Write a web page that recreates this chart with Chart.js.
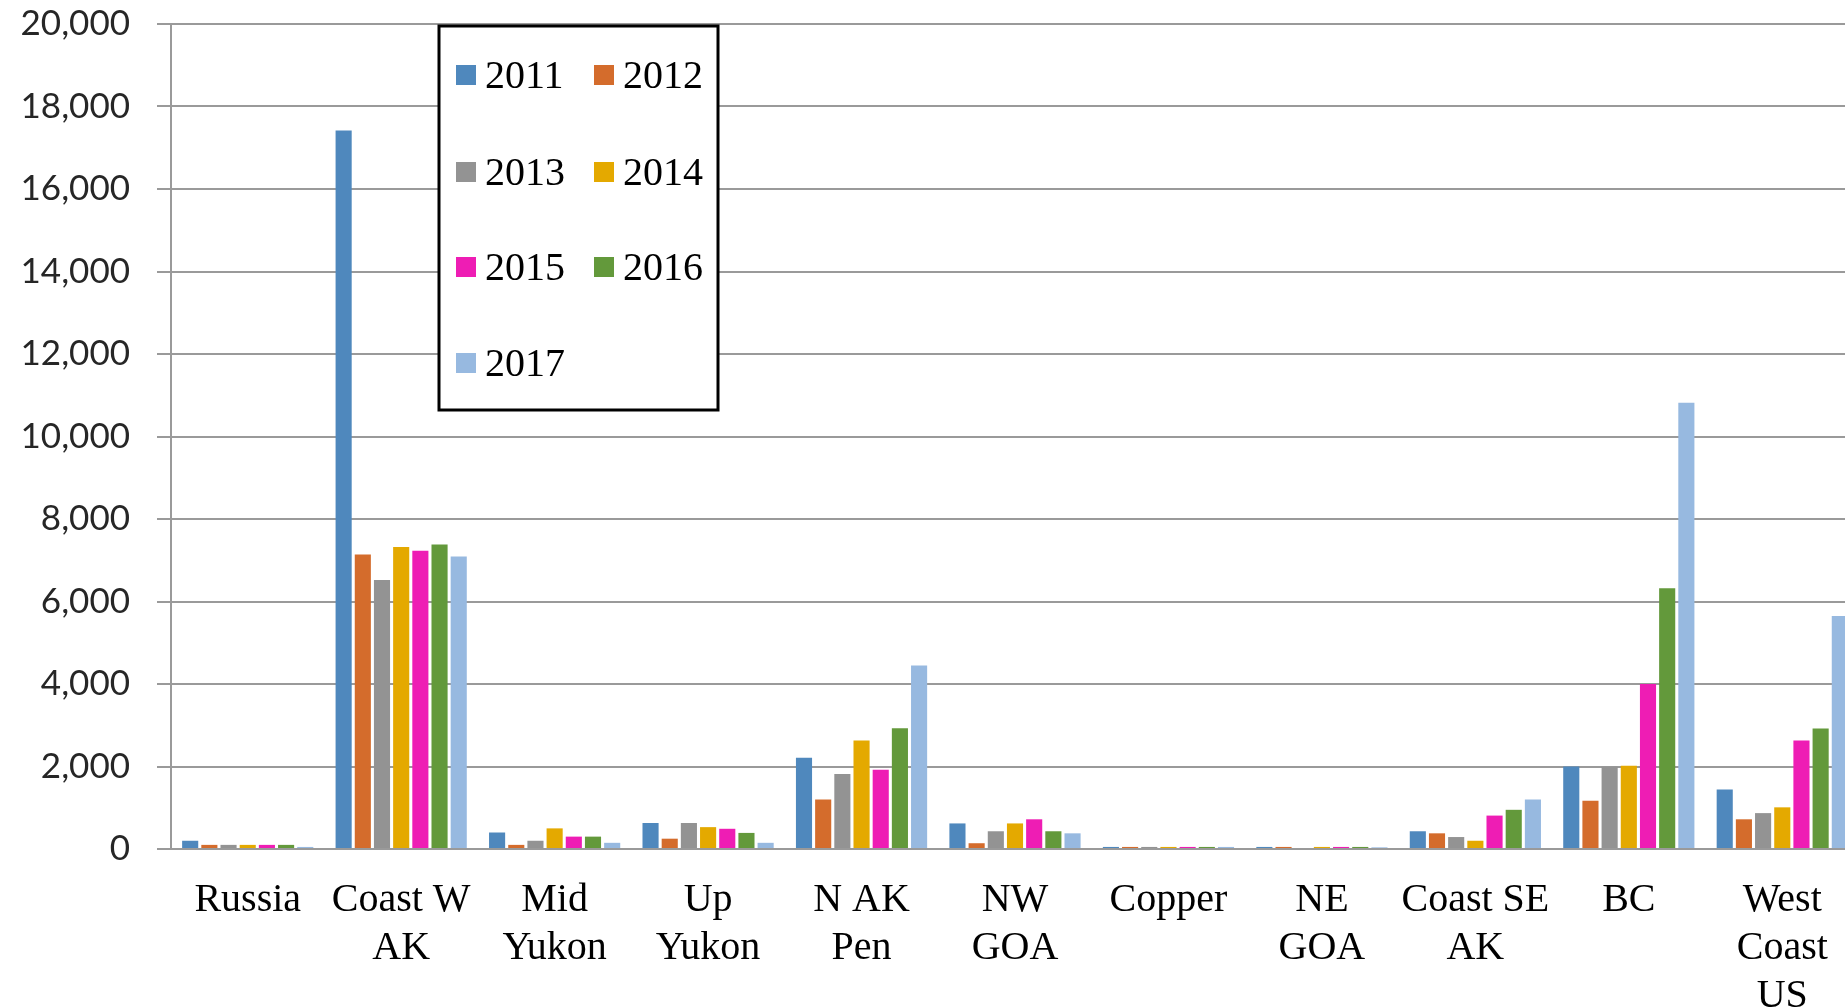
<!DOCTYPE html>
<html>
<head>
<meta charset="utf-8">
<script src="https://cdn.jsdelivr.net/npm/chart.js@4/dist/chart.umd.min.js"></script>
<style>
  html, body { margin: 0; padding: 0; background: #fff; overflow: hidden; }
  #wrap { position: relative; width: 1859px; height: 1008px; }
</style>
</head>
<body>
<div id="wrap"><canvas id="c"></canvas></div>
<script>
// ---- data ----
const categories = [
  'Russia', ['Coast W', 'AK'], ['Mid', 'Yukon'], ['Up', 'Yukon'], ['N AK', 'Pen'],
  ['NW', 'GOA'], 'Copper', ['NE', 'GOA'], ['Coast SE', 'AK'], 'BC', ['West', 'Coast', 'US']
];
const years = ['2011', '2012', '2013', '2014', '2015', '2016', '2017'];
const s2011 = [200, 17420, 400, 630, 2210, 620, 50, 50, 430, 2000, 1440];
const s2012 = [100, 7140, 100, 250, 1200, 140, 50, 50, 380, 1170, 720];
const s2013 = [100, 6520, 200, 630, 1820, 430, 50, 0, 290, 2000, 870];
const s2014 = [100, 7320, 500, 530, 2630, 620, 50, 50, 200, 2020, 1010];
const s2015 = [100, 7230, 300, 490, 1920, 720, 50, 50, 810, 4000, 2630];
const s2016 = [100, 7380, 300, 390, 2930, 430, 50, 50, 950, 6320, 2920];
const s2017 = [50, 7090, 150, 150, 4450, 380, 50, 40, 1200, 10820, 5650];
const yTickValues = [0, 2000, 4000, 6000, 8000, 10000, 12000, 14000, 16000, 18000, 20000];
const yTickLabels = ['0', '2,000', '4,000', '6,000', '8,000', '10,000', '12,000', '14,000', '16,000', '18,000', '20,000'];

const colors = ['#4f88bd', '#d46c2c', '#939393', '#e4a900', '#ee1db4', '#63993b', '#97b9e0'];
const seriesList = [s2011, s2012, s2013, s2014, s2015, s2016, s2017];

const datasets = years.map((y, i) => ({
  label: y,
  data: seriesList[i],
  backgroundColor: colors[i],
  borderWidth: 0,
  categoryPercentage: 0.875,
  barPercentage: 0.84
}));

// custom boxed legend, drawn from the chart's own datasets
const boxLegend = {
  id: 'boxLegend',
  afterDraw(chart) {
    const ctx = chart.ctx;
    ctx.save();
    const bx = 439, by = 26, bw = 279, bh = 384;
    ctx.fillStyle = '#fff';
    ctx.fillRect(bx, by, bw, bh);
    ctx.lineWidth = 3;
    ctx.strokeStyle = '#000';
    ctx.strokeRect(bx, by, bw, bh);
    const colX = [456, 594];
    const textX = [485, 623];
    const rowY = [75, 172, 267, 363];
    ctx.font = '40px "Liberation Serif", "Times New Roman", serif';
    ctx.textBaseline = 'middle';
    ctx.textAlign = 'left';
    chart.data.datasets.forEach((ds, i) => {
      const col = i % 2, row = Math.floor(i / 2);
      ctx.fillStyle = ds.backgroundColor;
      ctx.fillRect(colX[col], rowY[row] - 10, 20, 20);
      ctx.fillStyle = '#000';
      ctx.fillText(ds.label, textX[col], rowY[row] + 2);
    });
    ctx.restore();
  }
};

new Chart(document.getElementById('c'), {
  type: 'bar',
  data: { labels: categories, datasets },
  plugins: [boxLegend],
  options: {
    responsive: true,
    maintainAspectRatio: false,
    animation: false,
    layout: { padding: { top: 0, left: 0, right: 0, bottom: 0 } },
    plugins: {
      legend: { display: false },
      tooltip: { enabled: false }
    },
    scales: {
      x: {
        grid: { display: false },
        border: { display: true, color: '#9a9a9a', width: 2 },
        ticks: {
          color: '#000',
          font: { family: '"Liberation Serif", "Times New Roman", serif', size: 40, lineHeight: 1.19 },
          padding: 20,
          autoSkip: false,
          maxRotation: 0,
          minRotation: 0
        },
        afterFit(scale) { scale.height = 159; }
      },
      y: {
        min: 0,
        max: 20000,
        afterBuildTicks(scale) { scale.ticks = yTickValues.map(v => ({ value: v })); },
        grid: { color: '#9a9a9a', lineWidth: 2, drawTicks: true, tickLength: 14 },
        border: { display: true, color: '#9a9a9a', width: 2 },
        ticks: {
          color: '#262626',
          font: { family: 'Lato, "Liberation Sans", sans-serif', size: 35 },
          padding: 27,
          callback(value) {
            const idx = yTickValues.indexOf(value);
            return idx >= 0 ? yTickLabels[idx] : '';
          }
        },
        afterFit(scale) {
          scale.width = 171;
          scale.paddingTop = 24;
          scale.paddingBottom = 0;
        }
      }
    }
  }
});
</script>
</body>
</html>
